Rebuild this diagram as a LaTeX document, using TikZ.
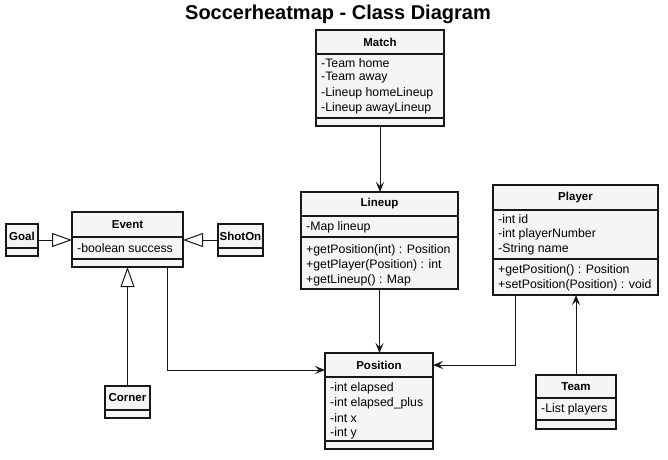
\documentclass[tikz,border=0pt]{standalone}
\usepackage{fontspec}
\setmainfont{Liberation Sans}
\usetikzlibrary{arrows.meta,calc}
\definecolor{boxfill}{HTML}{F5F5F5}
\definecolor{ink}{HTML}{181818}
\tikzset{
  umlbox/.style={draw=ink, fill=boxfill, line width=1.1pt, anchor=north west, inner sep=0pt, outer sep=0pt},
  divider/.style={draw=ink, line width=1.1pt},
  head/.style={font=\fontsize{11.5}{14}\selectfont\bfseries, text=black, inner sep=0pt},
  member/.style={font=\fontsize{12.3}{14}\selectfont, text=black, anchor=west, inner sep=0pt},
  assoc/.style={draw=ink, line width=1pt, -{Stealth[length=10pt,width=8pt,inset=4pt]}},
  inherit/.style={draw=ink, line width=1pt, -{Triangle[open,length=20pt,width=14pt,fill=white]}},
  titletext/.style={font=\fontsize{20}{24}\selectfont\bfseries, inner sep=0pt}
}
\begin{document}
\begin{tikzpicture}[x=1pt,y=-1pt]
\useasboundingbox (0,0) rectangle (668,459);
\fill[white] (0,0) rectangle (668,459);

\node[titletext] (title) at (338,14) {Soccerheatmap - Class Diagram};

% Match
\node[umlbox, minimum width=128pt, minimum height=96pt] (match) at (316,30) {};
\draw[divider] (316,54) -- (444,54);
\draw[divider] (316,118) -- (444,118);
\node[head] (match-h) at (380,42) {Match};
\node[member] (match-a1) at (321,63) {-Team home};
\node[member] (match-a2) at (321,78) {-Team away};
\node[member] (match-a3) at (321,93) {-Lineup homeLineup};
\node[member] (match-a4) at (321,108) {-Lineup awayLineup};

% Lineup
\node[umlbox, minimum width=157pt, minimum height=97pt] (lineup) at (301,192) {};
\draw[divider] (301,216) -- (458,216);
\draw[divider] (301,237) -- (458,237);
\node[head] (lineup-h) at (379.5,204) {Lineup};
\node[member] (lineup-a1) at (306,227) {-Map lineup};
\node[member] (lineup-m1) at (306,250) {+getPosition(int) : Position};
\node[member] (lineup-m2) at (306,265) {+getPlayer(Position) : int};
\node[member] (lineup-m3) at (306,280) {+getLineup() : Map};

% Player
\node[umlbox, minimum width=165pt, minimum height=110pt] (player) at (493,185) {};
\draw[divider] (493,210) -- (658,210);
\draw[divider] (493,259) -- (658,259);
\node[head] (player-h) at (575.5,197.5) {Player};
\node[member] (player-a1) at (498,219) {-int id};
\node[member] (player-a2) at (498,234) {-int playerNumber};
\node[member] (player-a3) at (498,249) {-String name};
\node[member] (player-m1) at (498,270) {+getPosition() : Position};
\node[member] (player-m2) at (498,285) {+setPosition(Position) : void};

% Event
\node[umlbox, minimum width=111pt, minimum height=55pt] (event) at (72,212) {};
\draw[divider] (72,237) -- (183,237);
\draw[divider] (72,259) -- (183,259);
\node[head] (event-h) at (127.5,224.5) {Event};
\node[member] (event-a1) at (77,248) {-boolean success};

% Goal
\node[umlbox, minimum width=32pt, minimum height=32pt] (goal) at (6,224) {};
\draw[divider] (6,248) -- (38,248);
\node[head] (goal-h) at (22,236) {Goal};

% ShotOn
\node[umlbox, minimum width=45pt, minimum height=32pt] (shoton) at (218,224) {};
\draw[divider] (218,248) -- (263,248);
\node[head] (shoton-h) at (240.5,236) {ShotOn};

% Corner
\node[umlbox, minimum width=45pt, minimum height=32pt] (corner) at (105,386) {};
\draw[divider] (105,410) -- (150,410);
\node[head] (corner-h) at (127.5,398) {Corner};

% Position
\node[umlbox, minimum width=108pt, minimum height=96pt] (position) at (325,353) {};
\draw[divider] (325,377) -- (433,377);
\draw[divider] (325,441) -- (433,441);
\node[head] (position-h) at (379,365) {Position};
\node[member] (position-a1) at (330,388) {-int elapsed};
\node[member] (position-a2) at (330,403) {-int elapsed\_plus};
\node[member] (position-a3) at (330,418) {-int x};
\node[member] (position-a4) at (330,433) {-int y};

% Team
\node[umlbox, minimum width=80pt, minimum height=54pt] (team) at (536,375) {};
\draw[divider] (536,398) -- (616,398);
\draw[divider] (536,420) -- (616,420);
\node[head] (team-h) at (576,386.5) {Team};
\node[member] (team-a1) at (541,409) {-List players};

% Connectors
\draw[assoc] (match.south) -- (match.south |- lineup.north);
\draw[assoc] (lineup.south) -- (lineup.south |- position.north);
\draw[assoc] ([xshift=39.5pt]event.south) |- ([yshift=31pt]position.west);
\draw[assoc] ([xshift=-60.5pt]player.south) |- ([yshift=36pt]position.east);
\draw[assoc] (team.north) -- (team.north |- player.south);
\draw[inherit] (goal.east) -- (goal.east -| event.west);
\draw[inherit] (shoton.west) -- (shoton.west -| event.east);
\draw[inherit] (corner.north) -- (corner.north |- event.south);
\end{tikzpicture}
\end{document}
